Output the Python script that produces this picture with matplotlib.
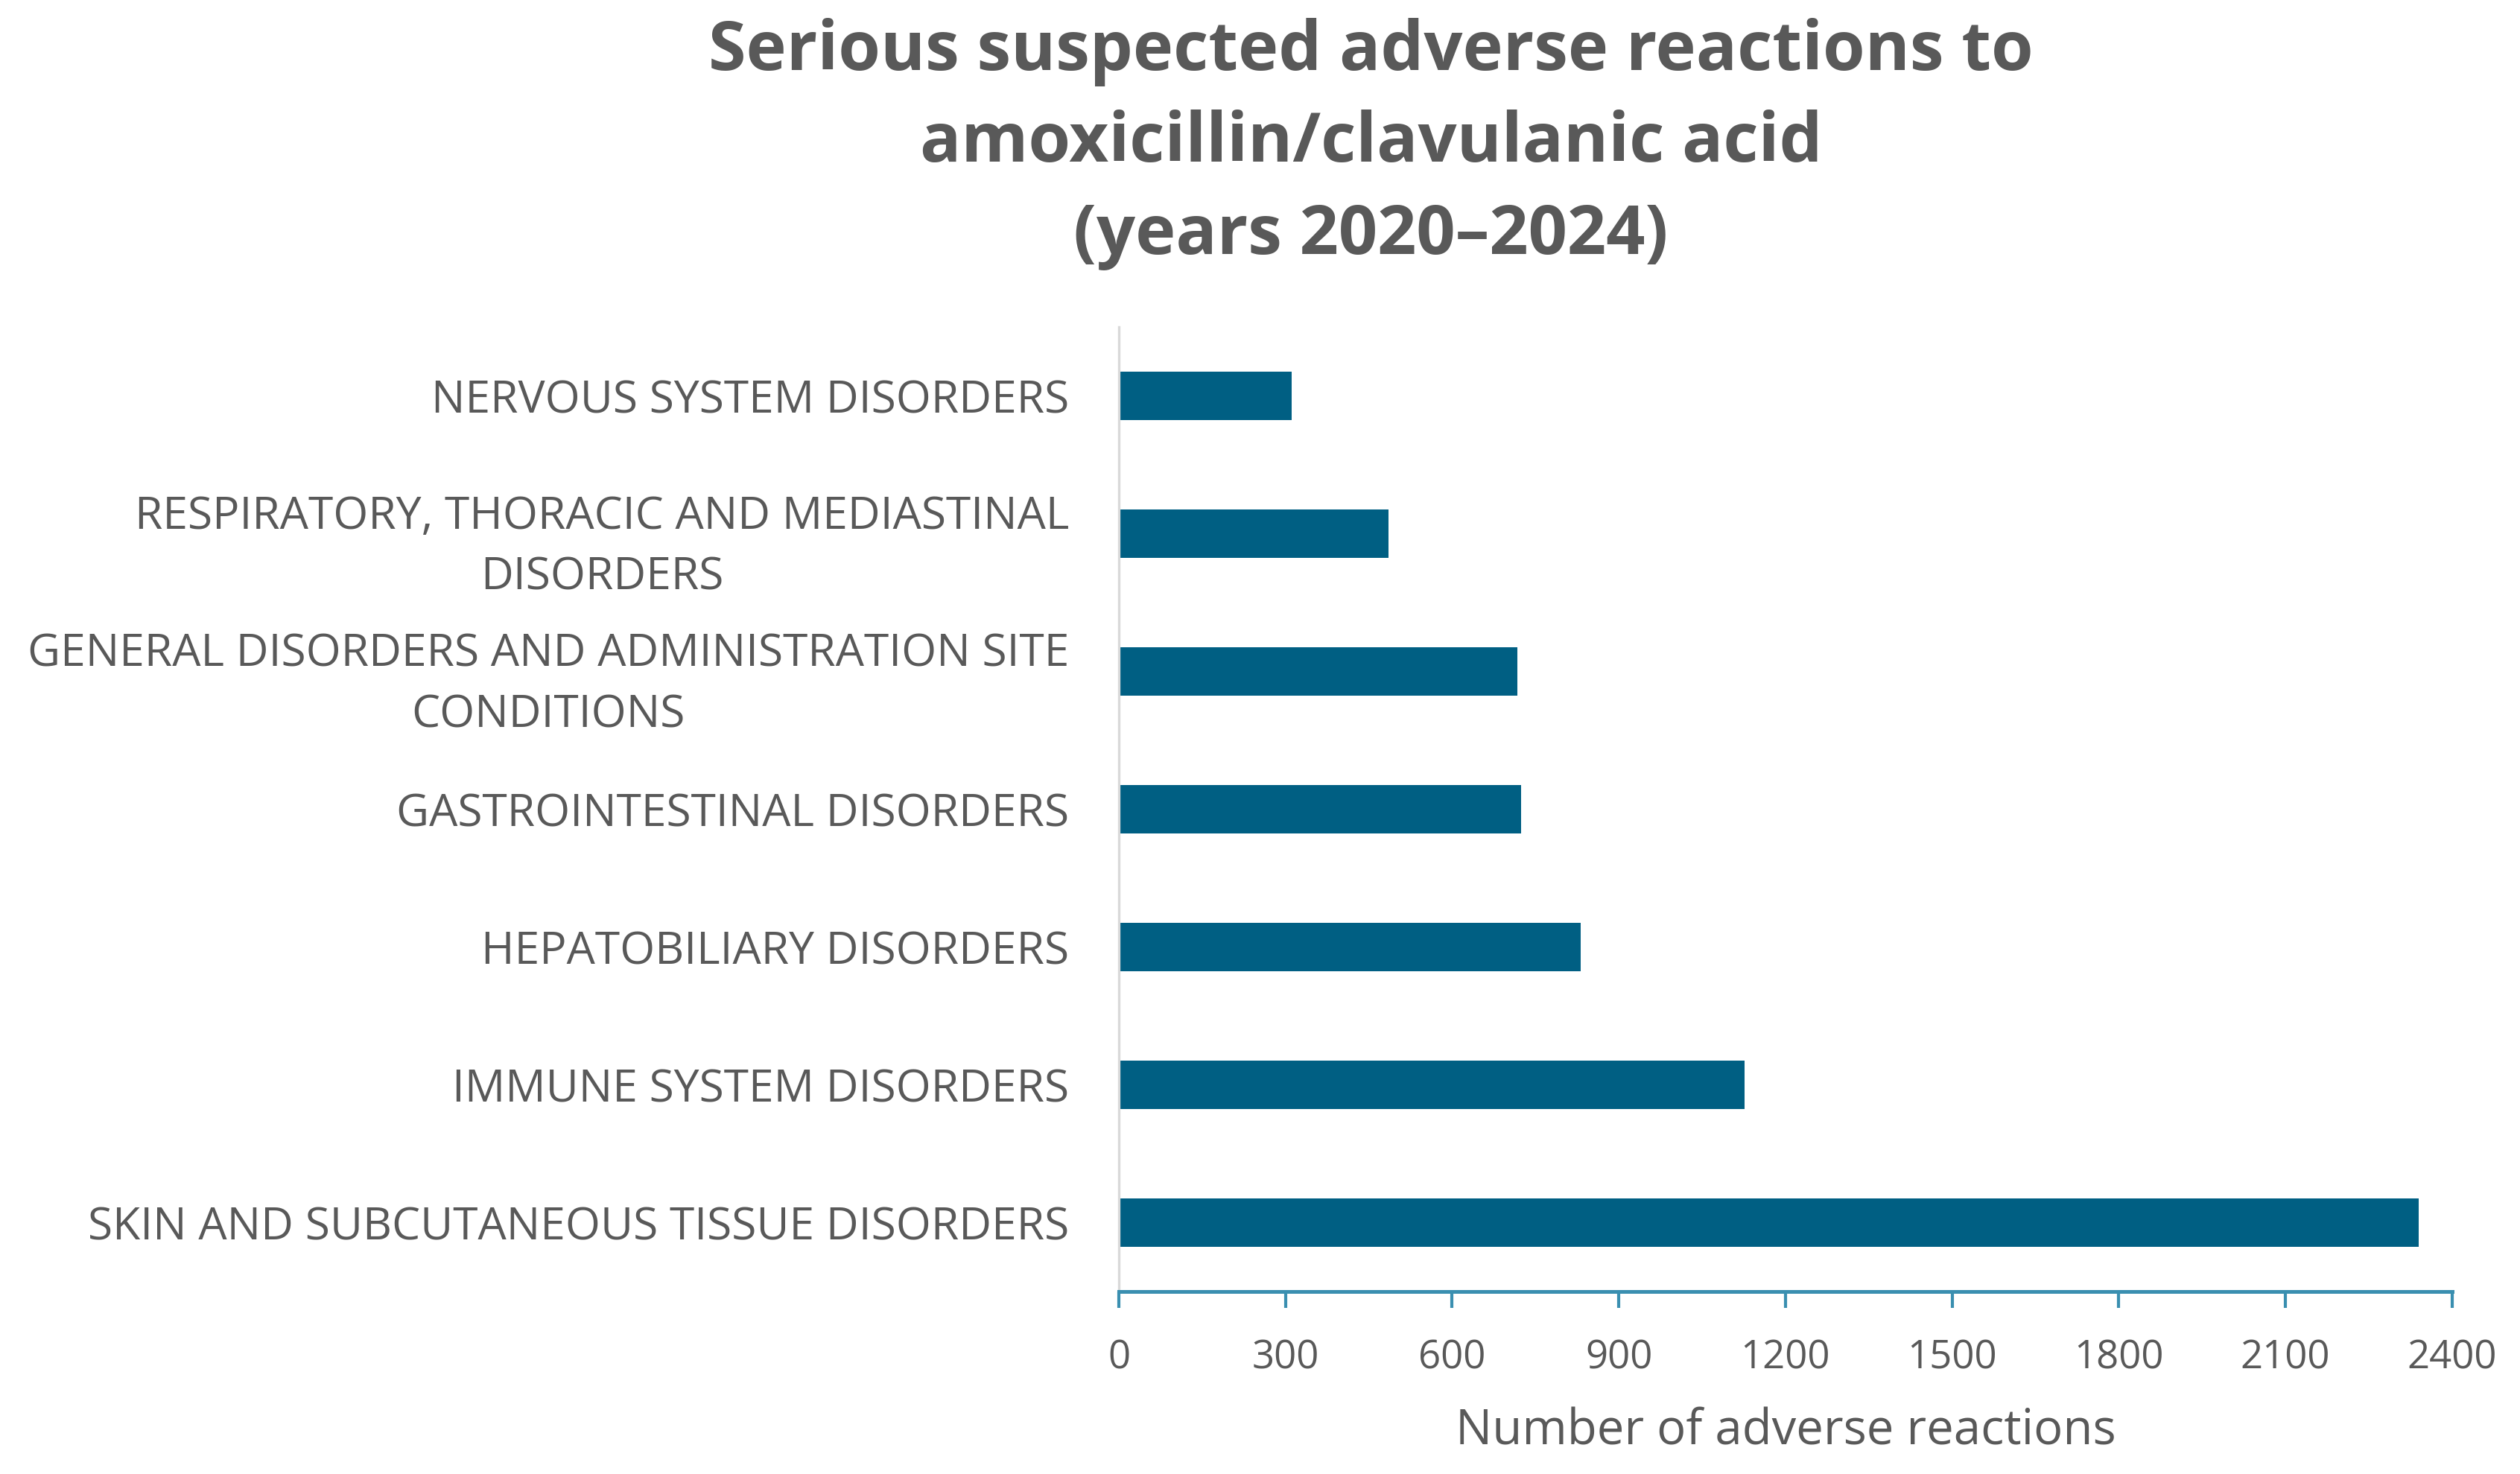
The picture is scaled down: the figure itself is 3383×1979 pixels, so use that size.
import numpy as np
import matplotlib.pyplot as plt

categories = [
    "SKIN AND SUBCUTANEOUS TISSUE DISORDERS",
    "IMMUNE SYSTEM DISORDERS",
    "HEPATOBILIARY DISORDERS",
    "GASTROINTESTINAL DISORDERS",
    "GENERAL DISORDERS AND ADMINISTRATION SITE\nCONDITIONS",
    "RESPIRATORY, THORACIC AND MEDIASTINAL\nDISORDERS",
    "NERVOUS SYSTEM DISORDERS",
]
counts = [2340, 1126, 831, 724, 717, 485, 311]
xticks = [0, 300, 600, 900, 1200, 1500, 1800, 2100, 2400]

plt.rcParams["font.family"] = ["Open Sans", "DejaVu Sans"]

fig = plt.figure(figsize=(16.915, 9.895), dpi=200)
ax = fig.add_axes([0.444, 0.124, 0.529, 0.654])

y = np.arange(len(categories))
ax.barh(y, counts, height=0.35, color="#005F83")

ax.set_ylim(-0.5, len(categories) - 0.5)
ax.set_xlim(0, 2400)
ax.set_xticks(xticks)
ax.set_yticks(y)
ax.set_yticklabels(categories, fontsize=21.8, color="#595959",
                   multialignment="center", linespacing=1.48)
ax.tick_params(axis="y", length=0, pad=24)
ax.tick_params(axis="x", direction="out", length=8, width=1.5, color="#3A8FB0",
               labelsize=19, labelcolor="#595959", pad=15)

for s in ["top", "right"]:
    ax.spines[s].set_visible(False)
ax.spines["left"].set_color("#D9D9D9")
ax.spines["left"].set_linewidth(1.2)
ax.spines["bottom"].set_color("#3A8FB0")
ax.spines["bottom"].set_linewidth(1.8)

ax.set_xlabel("Number of adverse reactions", fontsize=23.5, color="#595959", labelpad=14)

fig.text(0.544, 0.988,
         "Serious suspected adverse reactions to\namoxicillin/clavulanic acid\n(years 2020\u20132024)",
         ha="center", va="top", fontsize=33, fontweight="bold", color="#595959",
         linespacing=1.45)

fig.savefig("out.png", dpi=200, facecolor="white")
